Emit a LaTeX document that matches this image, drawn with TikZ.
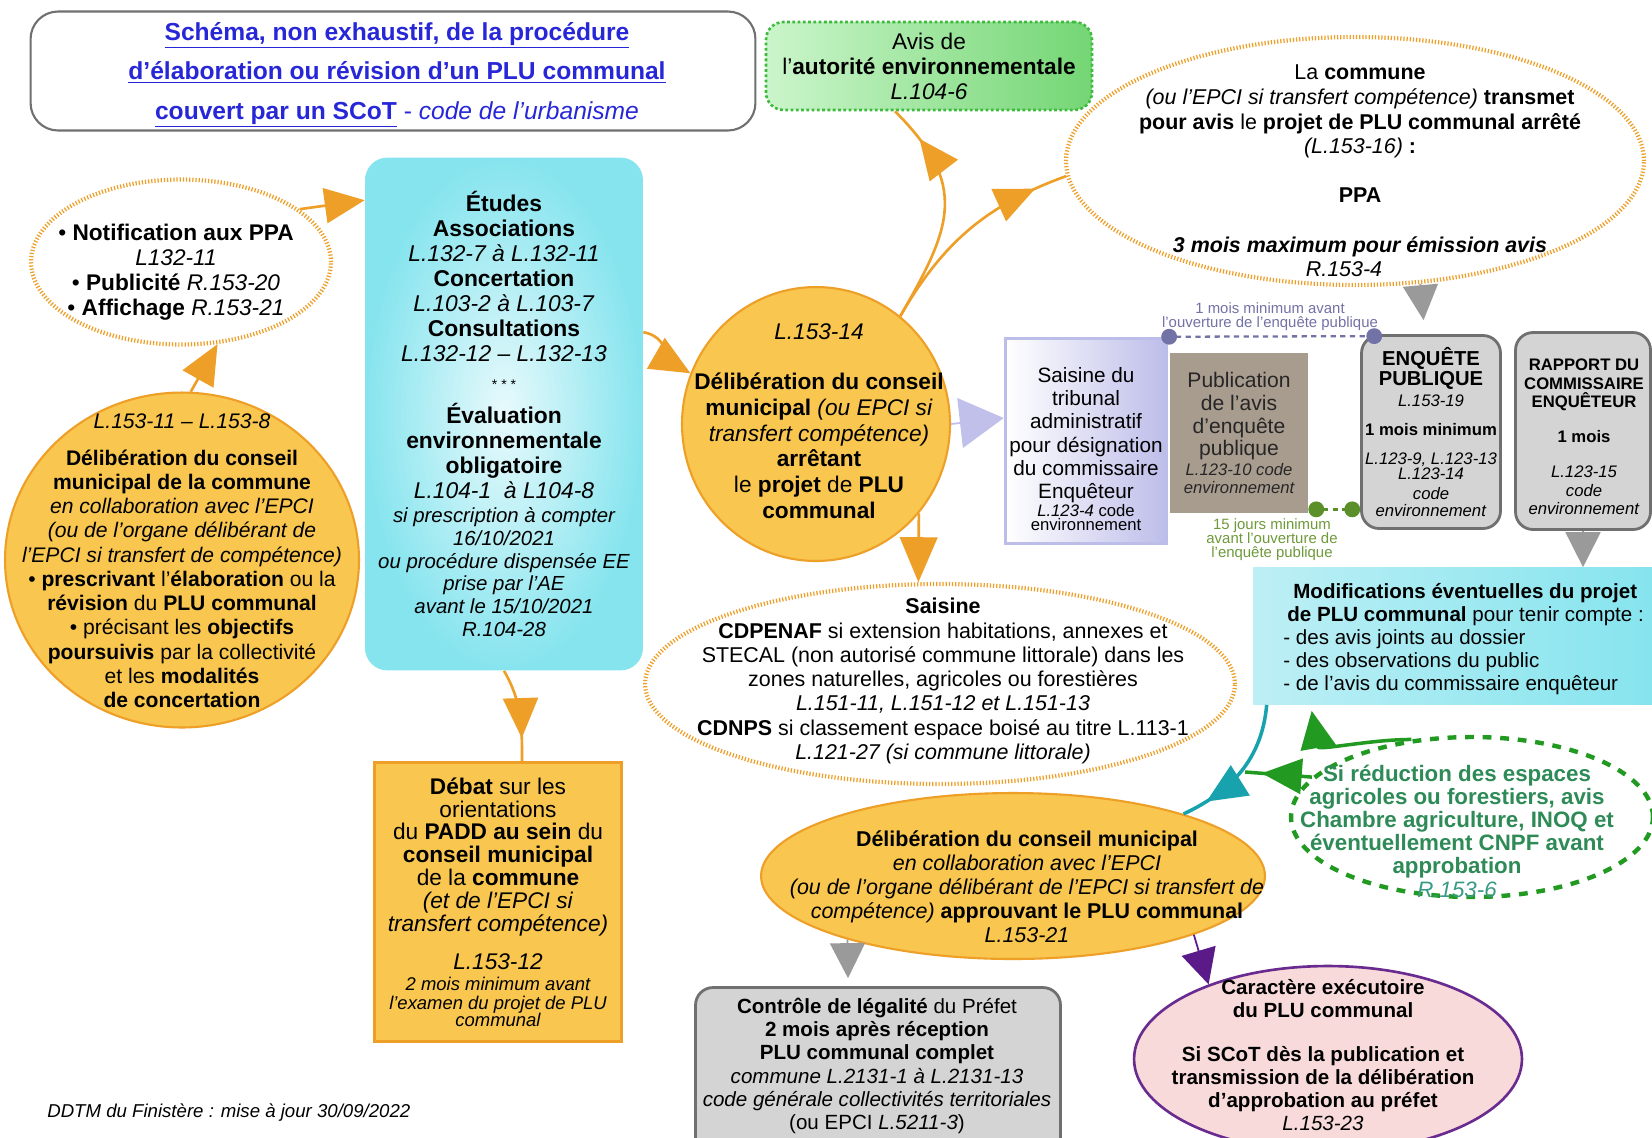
\documentclass[tikz,border=0pt]{standalone}
\usepackage{fontspec}
\setmainfont{Liberation Sans}
\usepackage{tikz}
\usetikzlibrary{arrows.meta}
\usetikzlibrary{shapes.geometric}
\usetikzlibrary{positioning}
\usetikzlibrary{calc}
\usetikzlibrary{decorations.markings}

\definecolor{jaune}{HTML}{F9C74F}
\definecolor{orangef}{HTML}{EE9F27}
\definecolor{cyanf}{HTML}{86E4EE}
\definecolor{cyanc}{HTML}{E8FAFC}
\definecolor{cyanl}{HTML}{BDEFF5}
\definecolor{vertae}{HTML}{3DBB3D}
\definecolor{vertc}{HTML}{CBF5CB}
\definecolor{vertf}{HTML}{74D674}
\definecolor{lavande}{HTML}{BDBDEA}
\definecolor{lavpointe}{HTML}{C0C0EA}
\definecolor{taupe}{HTML}{A89C8F}
\definecolor{grisf}{HTML}{D4D4D4}
\definecolor{grisb}{HTML}{707070}
\definecolor{grisfl}{HTML}{9A9A9A}
\definecolor{bleut}{HTML}{2727D8}
\definecolor{vertch}{HTML}{229A22}
\definecolor{vertt}{HTML}{2E8B57}
\definecolor{vertr}{HTML}{3A9A86}
\definecolor{bleuvert}{HTML}{17A2AE}
\definecolor{rose}{HTML}{F9DADA}
\definecolor{violetf}{HTML}{6A2B90}
\definecolor{violett}{HTML}{5A1A88}
\definecolor{mauve}{HTML}{7272A6}
\definecolor{olivet}{HTML}{6E9A3A}
\definecolor{vertd}{HTML}{5A8F2A}

\newcommand{\ftitre}{\fontsize{14}{22.5}\selectfont}
\newcommand{\fnorm}{\fontsize{12.9}{14.2}\selectfont}
\newcommand{\fcercle}{\fontsize{12}{13.8}\selectfont}
\newcommand{\fmoyen}{\fontsize{12.2}{13.8}\selectfont}
\newcommand{\fpetit}{\fontsize{11.6}{12}\selectfont}
\newcommand{\fmini}{\fontsize{9.5}{9}\selectfont}
\newcommand{\ftiny}{\fontsize{8.5}{8}\selectfont}

\tikzstyle{texte} = [align=center, inner sep=0pt]
\tikzstyle{cercle} = [ellipse, draw=orangef, line width=1.2pt, fill=jaune, inner sep=0pt]
\tikzstyle{bulle} = [ellipse, draw=orangef, line width=2.4pt, dash pattern=on 0.7pt off 1.1pt, fill=white, inner sep=0pt]
\tikzstyle{grisbox} = [rectangle, rounded corners=0.35cm, draw=grisb, line width=1.6pt, fill=grisf, align=center, inner sep=0pt]
\tikzstyle{arrow} = [line width=1.5pt, -{Triangle[length=0.8cm, width=0.7cm]}]
\tikzstyle{pointe} = [line width=1pt, -{Triangle[length=0.7cm, width=0.7cm]}]
\tikzset{tipat/.style={postaction={decorate, decoration={markings, mark=at position #1 with {\arrow{Triangle[length=0.8cm, width=0.7cm]}}}}}}

\begin{document}
\begin{tikzpicture}[x=0.02cm, y=-0.02cm]
	\useasboundingbox (0,0) rectangle (1652,1137);
	\clip (0,0) rectangle (1652,1137);
	\fill[white] (0,0) rectangle (1652,1137);

	% Title
	\node[rectangle, draw=grisb, line width=1.2pt, rounded corners=0.55cm, minimum width=14.5cm, minimum height=2.38cm] (titre) at (393,71) {};
	\node[texte, font=\ftitre, text=bleut] (titret) at (397,75) {\textbf{\underline{Schéma, non exhaustif, de la procédure}}\\ \textbf{\underline{d’élaboration ou révision d’un PLU communal}}\\ \textbf{\underline{couvert par un SCoT}} - \textit{code de l’urbanisme}};

	% Avis AE and PPA
	\node[rectangle, rounded corners=0.35cm, draw=vertae, line width=1.5pt, dash pattern=on 1.6pt off 1.4pt, left color=vertc, right color=vertf, minimum width=6.52cm, minimum height=1.76cm, align=center, font=\fnorm] (avisae) at (929,66) {Avis de\\l’\textbf{autorité environnementale}\\\textit{L.104-6}};
	\node[bulle, minimum width=11.56cm, minimum height=4.96cm] (ppa) at (1355,161) {};

	% Prescription
	\node[bulle, minimum width=6cm, minimum height=3.3cm] (notif) at (181,262) {};
	\node[cercle, minimum width=7.08cm, minimum height=6.7cm] (presc) at (182,560) {};

	% Etudes
	\node[rectangle, rounded corners=0.45cm, inner color=cyanc, outer color=cyanf, minimum width=5.56cm, minimum height=10.26cm, align=center, font=\fontsize{13}{14.2}\selectfont] (etudes) at (504,414) {\textbf{Études}\\
		\textbf{Associations}\\
		\textit{L.132-7 à L.132-11}\\
		\textbf{Concertation}\\
		\textit{L.103-2 à L.103-7}\\
		\textbf{Consultations}\\
		\textit{L.132-12 – L.132-13}\\[2pt]
		{\fontsize{8}{8}\selectfont * * *}\\[5pt]
		\textbf{Évaluation}\\
		\textbf{environnementale}\\
		\textbf{obligatoire}\\
		\textit{L.104-1 \ à L104-8}\\[-0.5pt]
		{\fpetit\itshape si prescription à compter}\\[-1.2pt]
		{\fpetit\itshape 16/10/2021}\\[-1.2pt]
		{\fpetit\itshape ou procédure dispensée EE}\\[-1.2pt]
		{\fpetit\itshape prise par l'AE}\\[-1.2pt]
		{\fpetit\itshape avant le 15/10/2021}\\[-1.2pt]
		{\fpetit\itshape R.104-28}};

	% Arret du projet
	\node[cercle, minimum width=5.36cm, minimum height=5.48cm] (arret) at (816,424) {};

	% Enquete publique
	\node[rectangle, draw=lavande, line width=2pt, left color=white, right color=lavande, minimum width=3.22cm, minimum height=4.1cm] (tribunal) at (1086,441) {};
	\node[texte, font=\fontsize{11.8}{13.3}\selectfont] (tribunalt) at (1086,449) {Saisine du\\tribunal\\administratif\\pour désignation\\du commissaire\\Enquêteur\\[-3.1pt]{\fmini\textit{L.123-4} code}\\[-5.3pt]{\fmini environnement}};
	\node[rectangle, fill=taupe, minimum width=2.76cm, minimum height=3.2cm, align=center, inner sep=0pt, text=black!85, font=\fontsize{12}{13}\selectfont] (publi) at (1239,433) {Publication\\de l'avis\\d'enquête\\publique\\[-1.6pt]{\fmini\itshape L.123-10 code}\\[-2.8pt]{\fmini\itshape environnement}};
	\node[grisbox, minimum width=2.78cm, minimum height=3.86cm, font=\fontsize{9.5}{11}\selectfont] (enquete) at (1431,432) {{\fontsize{11.5}{11.4}\selectfont\bfseries ENQUÊTE}\\
		{\fontsize{11.5}{11.4}\selectfont\bfseries PUBLIQUE}\\[1.5pt]
		\textit{L.153-19}\\[5pt]
		\textbf{1 mois minimum}\\[5.5pt]
		\textit{L.123-9, L.123-13}\\[-2pt]
		\textit{L.123-14}\\
		\textit{code}\\[-1.3pt]
		\textit{environnement}};
	\node[grisbox, minimum width=2.7cm, minimum height=3.94cm] (rapport) at (1583,431) {};
	\node[texte, font=\fontsize{9.5}{10.5}\selectfont] (rapportt) at (1584,437) {\textbf{RAPPORT DU}\\\textbf{COMMISSAIRE}\\\textbf{ENQUÊTEUR}\\[9.5pt]\textbf{1 mois}\\[9.5pt]\textit{L.123-15}\\\textit{code}\\\textit{environnement}};

	% Delais
	\draw[mauve, line width=1.3pt, dash pattern=on 3pt off 2.5pt, {Circle[length=9pt]}-{Circle[length=9pt]}] ([xshift=-0.14cm]tribunal.north east) -- ([xshift=0.44cm, yshift=-0.04cm]enquete.north west);
	\node[texte, font=\ftiny, text=mauve] (moislbl) at (1270,317) {1 mois minimum avant\\l’ouverture de l’enquête publique};
	\draw[vertd, line width=1.5pt, dash pattern=on 3pt off 2.5pt, {Circle[length=9pt]}-{Circle[length=9pt]}] ([yshift=0.08cm]publi.south east) -- ([yshift=0.08cm]publi.south east -| enquete.west);
	\node[texte, font=\ftiny, text=olivet] (jourslbl) at (1272,540) {15 jours minimum\\avant l’ouverture de\\l’enquête publique};

	% Saisine and modifications
	\node[bulle, minimum width=11.8cm, minimum height=4cm] (cdpenaf) at (940,684) {};
	\node[rectangle, left color=cyanl, right color=cyanf, minimum width=8cm, minimum height=2.74cm] (modif) at (1453,636) {};
	\node[ellipse, draw=vertch, line width=2.5pt, dash pattern=on 5pt off 5pt, minimum width=7.24cm, minimum height=3.2cm, inner sep=0pt] (chambre) at (1472,817) {};

	% Approbation
	\node[cercle, minimum width=10.08cm, minimum height=3.32cm] (approb) at (1013,876) {};
	\node[rectangle, draw=orangef, line width=1.2pt, fill=jaune, minimum width=4.94cm, minimum height=5.58cm, align=center, inner sep=0pt, font=\fontsize{12.9}{13}\selectfont] (debat) at (498,902) {\textbf{Débat} sur les\\orientations\\du \textbf{PADD au sein} du\\\textbf{conseil municipal}\\de la \textbf{commune}\\\textit{(et de l’EPCI si}\\\textit{transfert compétence)}\\[9pt]\textit{L.153-12}\\[-1.5pt]{\fontsize{10.5}{11}\selectfont\itshape 2 mois minimum avant}\\[-2.2pt]{\fontsize{10.5}{11}\selectfont\itshape l’examen du projet de PLU}\\[-3.2pt]{\fontsize{10.5}{11}\selectfont\itshape communal}};
	\node[grisbox, minimum width=7.3cm, minimum height=3.54cm] (controle) at (878,1076) {};
	\node[ellipse, draw=violetf, line width=1.5pt, fill=rose, minimum width=7.76cm, minimum height=3.72cm, inner sep=0pt] (exec) at (1328,1059) {};

	% Connect all nodes defined above
	\draw[arrow, orangef] (presc.87) -- (notif.-66);
	\draw[arrow, orangef] (notif.24) -- ([yshift=-0.86cm]etudes.north west);
	\draw[arrow, orangef] ([yshift=-3.5cm]etudes.north east) to[out=-10, in=150] (arret.158);
	\draw[orangef, line width=1.5pt, tipat=0.75] (etudes.south) to[out=-60, in=90] ([xshift=0.48cm]debat.north);
	\draw[orangef, line width=1.5pt, tipat=0.84] (arret.52) to[out=60, in=-45, looseness=1.3] ([xshift=-0.68cm]avisae.south);
	\draw[orangef, line width=1.5pt, tipat=0.85] (arret.52) to[out=60, in=200] (ppa.183);
	\draw[orangef, line width=1.5pt, -{Triangle[length=0.9cm, width=0.75cm]}] (arret.-41) -- (cdpenaf.102);
	\draw[lavpointe, line width=1pt, -{Triangle[length=0.88cm, width=1cm]}] (arret.east) -- ([yshift=0.46cm]tribunal.west);
	\draw[pointe, grisfl] (ppa.-62) -- ([xshift=-0.15cm, yshift=0.28cm]enquete.north);
	\draw[pointe, grisfl] (rapport.south) -- (rapport.south |- modif.north);
	\coordinate (jonction) at (1245,772);
	\draw[bleuvert, line width=2pt, tipat=0.82] ([xshift=0.28cm]modif.south west) to[out=-95, in=25] (approb.20);
	\draw[vertch, line width=2pt, -{Triangle[length=0.75cm, width=0.7cm]}] (chambre.128) to[out=180, in=-80] ([xshift=1.18cm, yshift=-0.12cm]modif.south west);
	\draw[vertch, line width=2pt, tipat=0.75] (chambre.166) -- (jonction);
	\draw[pointe, grisfl] (approb.-159) -- ([xshift=-0.6cm, yshift=0.16cm]controle.north);
	\draw[pointe, violett] (approb.-18) -- (exec.148);

	% Texts of the round nodes
	\node[texte, font=\fnorm] (notift) at (176,272) {• \textbf{Notification aux PPA}\\\textit{L132-11}\\• \textbf{Publicité} \textit{R.153-20}\\• \textbf{Affichage} \textit{R.153-21}};
	\node[texte, font=\fcercle] (presct) at (182,561) {\textit{L.153-11 – L.153-8}\\[6.8pt]
		\textbf{Délibération du conseil}\\
		\textbf{municipal de la commune}\\
		\textit{en collaboration avec l'EPCI}\\
		\textit{(ou de l'organe délibérant de}\\
		\textit{l'EPCI si transfert de compétence)}\\
		• \textbf{prescrivant} l'\textbf{élaboration} ou la\\
		\textbf{révision} du \textbf{PLU communal}\\
		• précisant les \textbf{objectifs}\\
		\textbf{poursuivis} par la collectivité\\
		et les \textbf{modalités}\\
		\textbf{de concertation}};
	\node[texte, font=\fontsize{12.9}{14.6}\selectfont] (arrett) at (819,421) {\textit{L.153-14}\\[14pt]\textbf{Délibération du conseil}\\\textbf{municipal} \textit{(ou EPCI si}\\\textit{transfert compétence)}\\\textbf{arrêtant}\\le \textbf{projet} de \textbf{PLU}\\\textbf{communal}};
	\node[texte, font=\fontsize{12.2}{14}\selectfont] (ppat) at (1360,171) {La \textbf{commune}\\\textit{(ou l’EPCI si transfert compétence)} \textbf{transmet}\\\textbf{pour avis} le \textbf{projet de PLU communal arrêté}\\\textit{(L.153-16)} \textbf{:}\\[14pt]\textbf{PPA}\\[14pt]\textbf{\textit{3 mois maximum pour émission avis}}\hspace*{0.64cm}\\\textit{R.153-4}\hspace*{0.64cm}};
	\node[texte, font=\fmoyen] (cdpenaft) at (943,681) {\textbf{Saisine}\\\textbf{CDPENAF} si extension habitations, annexes et\\STECAL (non autorisé commune littorale) dans les\\zones naturelles, agricoles ou forestières\\\textit{L.151-11, L.151-12 et L.151-13}\\\textbf{CDNPS} si classement espace boisé au titre L.113-1\\\textit{L.121-27 (si commune littorale)}};
	\node[texte, align=left, anchor=west, font=\fontsize{11.7}{13.2}\selectfont] (modift) at (1283,639) {\hspace*{0.2cm}\textbf{Modifications éventuelles du projet}\\\hspace*{0.08cm}\textbf{de PLU communal} pour tenir compte :\\- des avis joints au dossier\\- des observations du public\\- de l’avis du commissaire enquêteur};
	\node[texte, font=\fontsize{12.7}{13.2}\selectfont, text=vertt] (chambret) at (1457,831) {\textbf{Si réduction des espaces}\\\textbf{agricoles ou forestiers, avis}\\\textbf{Chambre agriculture, INOQ et}\\\textbf{éventuellement CNPF avant}\\\textbf{approbation}\\{\color{vertr}\textit{R.153-6}}};
	\node[texte, font=\fontsize{12.2}{13.6}\selectfont] (approbt) at (1027,887) {\textbf{Délibération du conseil municipal}\\\textit{en collaboration avec l’EPCI}\\\textit{(ou de l’organe délibérant de l’EPCI si transfert de}\\\textit{compétence)} \textbf{approuvant le PLU communal}\\\textit{L.153-21}};
	\node[texte, font=\fontsize{11.7}{13.2}\selectfont] (controlet) at (877,1066) {\textbf{Contrôle de légalité} du Préfet\\\textbf{2 mois après réception}\\\textbf{PLU communal complet}\\\textit{commune L.2131-1 à L.2131-13}\\\textit{code générale collectivités territoriales}\\(ou EPCI \textit{L.5211-3})};
	\node[texte, font=\fontsize{11.7}{13.1}\selectfont] (exect) at (1323,1055) {\textbf{Caractère exécutoire}\\\textbf{du PLU communal}\\[11.5pt]\textbf{Si SCoT dès la publication et}\\\textbf{transmission de la délibération}\\\textbf{d’approbation au préfet}\\\textit{L.153-23}};

	% Footer
	\node[anchor=west, inner sep=0pt, font=\fontsize{10.6}{12}\selectfont\itshape] (maj) at (47,1113) {DDTM du Finistère : mise à jour 30/09/2022};
\end{tikzpicture}
\end{document}
